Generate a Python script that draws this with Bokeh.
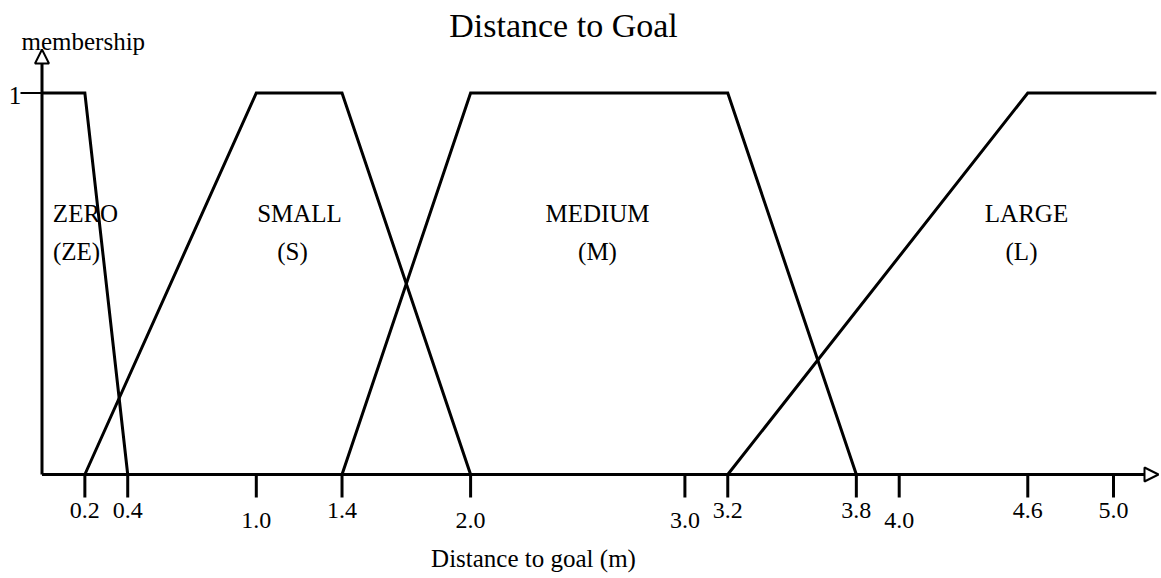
from bokeh.plotting import figure
from bokeh.models import Arrow, NormalHead
from bokeh.core.properties import value
from bokeh.embed import file_html
from bokeh.resources import INLINE

# ---------------- data ----------------
zero_x = [0.0, 0.2, 0.4]
zero_y = [1, 1, 0]
small_x = [0.2, 1.0, 1.4, 2.0]
small_y = [0, 1, 1, 0]
medium_x = [1.4, 2.0, 3.2, 3.8]
medium_y = [0, 1, 1, 0]
large_x = [3.2, 4.6, 5.2]
large_y = [0, 1, 1]

set_names = ["ZERO", "SMALL", "MEDIUM", "LARGE"]
set_abbr = ["(ZE)", "(S)", "(M)", "(L)"]

x_ticks = [0.2, 0.4, 1.0, 1.4, 2.0, 3.0, 3.2, 3.8, 4.0, 4.6, 5.0]
x_tick_labels = ["0.2", "0.4", "1.0", "1.4", "2.0", "3.0", "3.2", "3.8", "4.0", "4.6", "5.0"]
x_ticks_lowered = [1.0, 2.0, 3.0, 4.0]
y_ticks = [1]
y_tick_labels = ["1"]

title_text = "Distance to Goal"
x_label_text = "Distance to goal (m)"
y_label_text = "membership"

# ---------------- layout ----------------
W, H = 1161, 574
X0, PXU_X = 41.5, 214.3      # px of x=0, px per x unit
Y0, PXU_Y = 474.0, 381.5     # px of y=0, px per y unit
BASE_FIX = 0.36              # alphabetic-baseline correction (in em)
x_start = -X0 / PXU_X
x_end = x_start + W / PXU_X
y_end = Y0 / PXU_Y
y_start = y_end - H / PXU_Y


def dx(px):
    return (px - X0) / PXU_X


def dy(py):
    return (Y0 - py) / PXU_Y


def base(py, size):
    # data y for a text whose alphabetic baseline should sit at pixel row py
    return dy(py - BASE_FIX * size)


FONT = value("Liberation Serif")

p = figure(width=W, height=H, x_range=(x_start, x_end), y_range=(y_start, y_end),
           output_backend="svg", toolbar_location=None, title=None,
           x_axis_location=None, y_axis_location=None, min_border=0,
           outline_line_color=None, background_fill_color="white",
           border_fill_color="white")
p.grid.grid_line_color = None

# membership functions
for xs, ys in [(zero_x, zero_y), (small_x, small_y), (medium_x, medium_y), (large_x, large_y)]:
    p.line(xs, ys, line_color="black", line_width=3, line_join="miter")

# axes with hollow arrow heads
p.add_layout(Arrow(x_start=0, y_start=0, x_end=dx(1158), y_end=0, line_width=3,
                   line_color="black",
                   end=NormalHead(size=14, fill_color="white", line_width=2, line_color="black")))
p.add_layout(Arrow(x_start=0, y_start=0, x_end=0, y_end=dy(49), line_width=3,
                   line_color="black",
                   end=NormalHead(size=14, fill_color="white", line_width=2, line_color="black")))

# x ticks
tick_len = dy(Y0 + 23)
p.segment(x0=x_ticks, y0=[0] * len(x_ticks), x1=x_ticks, y1=[tick_len] * len(x_ticks),
          line_color="black", line_width=3, line_cap="butt")
# y tick
p.segment(x0=[dx(20)] * len(y_ticks), y0=y_ticks, x1=[0] * len(y_ticks), y1=y_ticks,
          line_color="black", line_width=2, line_cap="butt")

# x tick labels (two staggered rows)
TICK_FS = 24
up_x = [t for t in x_ticks if t not in x_ticks_lowered]
up_l = [l for t, l in zip(x_ticks, x_tick_labels) if t not in x_ticks_lowered]
lo_x = [t for t in x_ticks if t in x_ticks_lowered]
lo_l = [l for t, l in zip(x_ticks, x_tick_labels) if t in x_ticks_lowered]
p.text(x=up_x, y=[0] * len(up_x), text=up_l, y_offset=45 - BASE_FIX * TICK_FS,
       text_align="center", text_baseline="alphabetic", text_font=FONT,
       text_font_size=f"{TICK_FS}px", text_color="black")
p.text(x=lo_x, y=[0] * len(lo_x), text=lo_l, y_offset=55 - BASE_FIX * TICK_FS,
       text_align="center", text_baseline="alphabetic", text_font=FONT,
       text_font_size=f"{TICK_FS}px", text_color="black")

# y tick label
LAB_FS = 25
p.text(x=[0] * len(y_ticks), y=y_ticks, text=y_tick_labels, x_offset=-27,
       y_offset=11.5 - BASE_FIX * LAB_FS,
       text_align="center", text_baseline="alphabetic", text_font=FONT,
       text_font_size=f"{LAB_FS}px", text_color="black")

# fuzzy set labels
label1_x = [dx(85), dx(299), dx(597), dx(1026)]
label2_x = [dx(76), dx(292), dx(597), dx(1021)]
p.text(x=label1_x, y=[base(221.5, LAB_FS)] * 4, text=set_names, text_align="center",
       text_baseline="alphabetic", text_font=FONT, text_font_size=f"{LAB_FS}px",
       text_color="black")
p.text(x=label2_x, y=[base(259.5, LAB_FS)] * 4, text=set_abbr, text_align="center",
       text_baseline="alphabetic", text_font=FONT, text_font_size=f"{LAB_FS}px",
       text_color="black")

# title, axis labels
TITLE_FS = 34
p.text(x=[dx(563)], y=[base(37, TITLE_FS)], text=[title_text], text_align="center",
       text_baseline="alphabetic", text_font=FONT, text_font_size=f"{TITLE_FS}px",
       text_color="black")
p.text(x=[dx(533)], y=[base(567, LAB_FS)], text=[x_label_text], text_align="center",
       text_baseline="alphabetic", text_font=FONT, text_font_size=f"{LAB_FS}px",
       text_color="black")
p.text(x=[dx(21)], y=[base(50, LAB_FS)], text=[y_label_text], text_align="left",
       text_baseline="alphabetic", text_font=FONT, text_font_size=f"{LAB_FS}px",
       text_color="black")

open("out.html", "w").write(file_html(p, INLINE))
